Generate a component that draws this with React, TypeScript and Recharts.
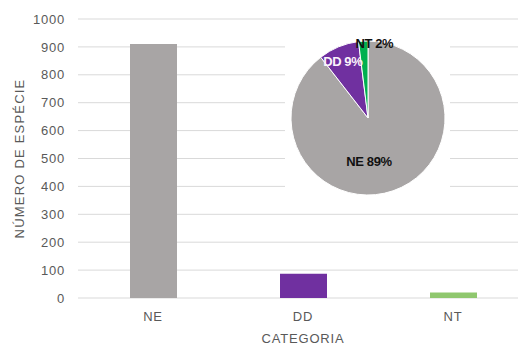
import { Bar, BarChart, CartesianGrid, Cell, Label, Pie, PieChart, XAxis, YAxis } from 'recharts'

const CATEGORIES = ['NE', 'DD', 'NT']
const SPECIES_COUNT = [910, 87, 20]
const Y_TICKS = [0, 100, 200, 300, 400, 500, 600, 700, 800, 900, 1000]
const BAR_COLORS = ['#a8a5a5', '#7030a0', '#8fc76e']
const PIE_COLORS = ['#a8a5a5', '#7030a0', '#00b050']

const FONT = 'Arial, "Liberation Sans", sans-serif'
const AXIS_TEXT = '#595959'

const data = CATEGORIES.map((cat, i) => ({ cat, count: SPECIES_COUNT[i] }))
const total = SPECIES_COUNT.reduce((a, b) => a + b, 0)

// where each pie label sits: fraction of the radius, plus a small nudge sideways
const LABEL_RADIUS = [0.6, 0.79, 0.975]
const LABEL_DX = [-14, -2, 11]
const LABEL_FILL = ['#111', '#fbf3fb', '#111']

const RADIAN = Math.PI / 180

function pieLabel(props: any) {
  const { cx, cy, midAngle, outerRadius, index } = props
  const r = outerRadius * LABEL_RADIUS[index]
  const x = cx + r * Math.cos(-midAngle * RADIAN) + LABEL_DX[index]
  const y = cy + r * Math.sin(-midAngle * RADIAN)
  const pct = Math.round((SPECIES_COUNT[index] / total) * 100)
  return (
    <text
      x={x}
      y={y}
      textAnchor="middle"
      dominantBaseline="central"
      fill={LABEL_FILL[index]}
      fontSize={13}
      fontWeight="bold"
      letterSpacing={-0.4}
      fontFamily={FONT}
    >
      {`${CATEGORIES[index]} ${pct}%`}
    </text>
  )
}

export default function App() {
  return (
    <div
      style={{
        position: 'absolute',
        left: 0,
        top: 0,
        width: 518,
        height: 347,
        overflow: 'hidden',
        background: '#fff',
        fontFamily: FONT,
      }}
    >
      <BarChart width={530} height={347} data={data} margin={{ top: 19, right: 2, left: 0, bottom: 0 }}>
        <CartesianGrid vertical={false} stroke="#d9d9d9" />
        <XAxis
          dataKey="cat"
          height={49}
          axisLine={false}
          tickLine={false}
          tickSize={0}
          tickMargin={14}
          tick={{ fill: AXIS_TEXT, fontSize: 13, letterSpacing: 0.8 }}
        >
          <Label
            value="CATEGORIA"
            position="insideBottom"
            offset={4}
            fill={AXIS_TEXT}
            fontSize={13}
            letterSpacing={0.8}
          />
        </XAxis>
        <YAxis
          width={78}
          domain={[0, 1000]}
          ticks={Y_TICKS}
          interval={0}
          axisLine={false}
          tickLine={false}
          tickSize={0}
          tickMargin={13}
          tick={{ fill: AXIS_TEXT, fontSize: 13, letterSpacing: 0.8 }}
        >
          <Label
            value="NÚMERO DE ESPÉCIE"
            angle={-90}
            position="insideLeft"
            offset={19}
            fill={AXIS_TEXT}
            fontSize={13}
            letterSpacing={1.2}
            style={{ textAnchor: 'middle' }}
          />
        </YAxis>
        <Bar dataKey="count" barSize={47} isAnimationActive={false}>
          {data.map((d, i) => (
            <Cell key={d.cat} fill={BAR_COLORS[i]} />
          ))}
        </Bar>
      </BarChart>

      <div style={{ position: 'absolute', left: 285, top: 25, width: 165, height: 175, background: '#fff' }}>
        <PieChart width={165} height={175} margin={{ top: 0, right: 0, bottom: 0, left: 0 }}>
          <Pie
            data={data}
            dataKey="count"
            nameKey="cat"
            cx={83}
            cy={93}
            outerRadius={77}
            startAngle={90}
            endAngle={-270}
            stroke="#fff"
            strokeWidth={1}
            label={pieLabel}
            labelLine={false}
            isAnimationActive={false}
          >
            {data.map((d, i) => (
              <Cell key={d.cat} fill={PIE_COLORS[i]} />
            ))}
          </Pie>
        </PieChart>
      </div>
    </div>
  )
}
